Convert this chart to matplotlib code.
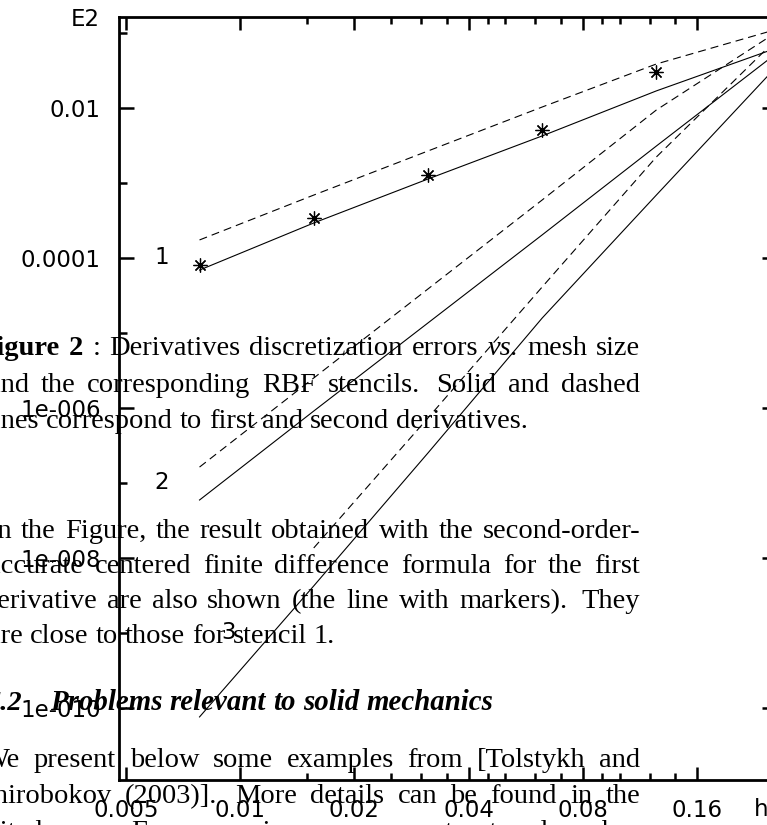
import matplotlib
matplotlib.use("Agg")
import matplotlib.pyplot as plt
from matplotlib.ticker import NullFormatter

# ---------------------------------------------------------------- data
h_vals = [0.0078125, 0.015625, 0.03125, 0.0625, 0.125, 0.25]

# stencil 1, 2, 3: first derivative (solid) and second derivative (dashed)
e1_first = [6.9e-5, 2.93e-4, 1.13e-3, 4.24e-3, 1.69e-2, 5.9e-2]
e1_second = [1.74e-4, 6.9e-4, 2.67e-3, 1.03e-2, 3.86e-2, 1.06e-1]
e2_first = [5.93e-8, 9.1e-7, 1.36e-5, 2.03e-4, 3.11e-3, 4.65e-2]
e2_second = [1.63e-7, 2.51e-6, 3.86e-5, 5.93e-4, 9.4e-3, 9.1e-2]
e3_first = [7.6e-11, 4.24e-9, 2.51e-7, 1.58e-5, 6.9e-4, 2.93e-2]
h_e3_second = [0.015625, 0.03125, 0.0625, 0.125, 0.25]
e3_second = [1.36e-8, 7.36e-7, 4.1e-5, 2.22e-3, 6.9e-2]

# second-order centered finite difference, first derivative
h_fd = [0.0078125, 0.015625, 0.03125, 0.0625, 0.125]
e_fd = [8.07e-5, 3.41e-4, 1.28e-3, 5.09e-3, 3.02e-2]

x_major = [0.005, 0.01, 0.02, 0.04, 0.08, 0.16]
x_major_labels = ["0.005", "0.01", "0.02", "0.04", "0.08", "0.16"]
x_minor = [0.015, 0.025, 0.03, 0.035, 0.045, 0.05, 0.06, 0.07, 0.09, 0.1, 0.12, 0.14]
y_major = [1e-2, 1e-4, 1e-6, 1e-8, 1e-10]
y_major_labels = ["0.01", "0.0001", "1e-006", "1e-008", "1e-010"]
y_minor = [1e-1, 1e-3, 1e-5, 1e-7, 1e-9]

curve_labels = ["1", "2", "3"]
curve_label_h = [0.0062, 0.0062, 0.0093]
curve_label_e = [1e-4, 1e-7, 1e-9]

# ---------------------------------------------------------------- figure
W, H = 767, 825
fig = plt.figure(figsize=(W / 100, H / 100), dpi=100)
plt.rcParams["font.family"] = ["DejaVu Sans"]


def fx(x):
    return x / W


def fy(y):
    return 1 - y / H


ax = fig.add_axes([fx(119), fy(780), (777 - 119) / W, (780 - 17) / H])
ax.set_xscale("log")
ax.set_yscale("log")
ax.set_xlim(0.004792, 0.2600)
ax.set_ylim(1.096e-11, 0.1634)

lw = 0.8
dash = (0, (7.2, 4.5))
ax.plot(h_vals, e1_first, color="black", lw=lw)
ax.plot(h_vals, e1_second, color="black", lw=lw, ls=dash)
ax.plot(h_vals, e2_first, color="black", lw=lw)
ax.plot(h_vals, e2_second, color="black", lw=lw, ls=dash)
ax.plot(h_vals, e3_first, color="black", lw=lw)
ax.plot(h_e3_second, e3_second, color="black", lw=lw, ls=dash)
ax.plot(h_fd, e_fd, ls="none", marker=(8, 2, 0), ms=10, mew=0.9,
        color="black")

for lab, hx, ey in zip(curve_labels, curve_label_h, curve_label_e):
    ax.text(hx, ey, lab, ha="center", va="center", fontsize=16.5)

ax.set_xticks(x_major)
ax.set_xticklabels(x_major_labels)
ax.set_xticks(x_minor, minor=True)
ax.xaxis.set_minor_formatter(NullFormatter())
ax.set_yticks(y_major)
ax.set_yticklabels(y_major_labels)
ax.set_yticks(y_minor, minor=True)
ax.yaxis.set_minor_formatter(NullFormatter())

ax.tick_params(which="both", direction="in", top=True, right=True,
               width=1.8, labelsize=16.5, color="black")
ax.tick_params(axis="x", which="major", length=9.4, pad=14)
ax.tick_params(axis="x", which="minor", length=5)
ax.tick_params(axis="y", which="major", length=10.8, pad=13)
ax.tick_params(axis="y", which="minor", length=5.8)
for sp in ax.spines.values():
    sp.set_linewidth(2.0)

fig.text(fx(100), fy(20), "E2", ha="right", va="center", fontsize=16.5)
fig.text(fx(761), fy(810), "h", ha="center", va="center", fontsize=16.5)

# ---------------------------------------------------------------- page text
FS = 20.5
SERIF = "Liberation Serif"
STY = {"r": ("normal", "normal"), "b": ("bold", "normal"),
       "i": ("normal", "italic"), "bi": ("bold", "italic")}
renderer = fig.canvas.get_renderer()


def make_word(s, st, size=FS):
    weight, style = STY[st]
    return fig.text(0, 0, s, fontsize=size, family=SERIF, weight=weight,
                    style=style, ha="left", va="baseline", color="black")


def set_line(words, y, left, right=None, size=FS):
    """words: list of (text, style, gap_weight_before)."""
    objs = [make_word(s, st, size) for s, st, _ in words]
    widths = [o.get_window_extent(renderer).width for o in objs]
    if right is None:
        gap_unit = 0.25 * size * 100 / 72
    else:
        weights = sum(g for _, _, g in words[1:])
        gap_unit = (right - left - sum(widths)) / weights
    x = left
    for i, (o, w) in enumerate(zip(objs, widths)):
        if i > 0:
            x += words[i][2] * gap_unit
        o.set_position((fx(x), fy(y)))
        x += w


def words_of(text, style="r"):
    out = []
    g = 1.0
    for p in text.split(" "):
        if p == "":
            g += 0.4
            continue
        out.append((p, style, g))
        g = 1.0
    return out


RIGHT = 640

line1 = ([("Figure", "b", 1.0), ("2", "b", 1.0), (":", "r", 1.0)]
         + words_of("Derivatives discretization errors")
         + [("vs.", "i", 1.0)] + words_of("mesh size"))
set_line(line1, 355, -20, RIGHT)
set_line(words_of("and the corresponding RBF stencils.  Solid and dashed"),
         392, -12, RIGHT)
set_line(words_of("lines correspond to first and second derivatives."),
         428, -15)
set_line(words_of("In the Figure, the result obtained with the second-order-"),
         538, -12, RIGHT)
set_line(words_of("accurate centered finite difference formula for the first"),
         573, -12, RIGHT)
set_line(words_of("derivative are also shown (the line with markers).  They"),
         608, -17, RIGHT)
set_line(words_of("are close to those for stencil 1."), 643, -12)
set_line([("5.2", "bi", 1.0)], 710, -13)
set_line(words_of("Problems relevant to solid mechanics", "bi"), 710, 50,
         size=20.8)
set_line(words_of("We present below some examples from [Tolstykh and"),
         767, -17, RIGHT)
set_line(words_of("Shirobokov (2003)].  More details can be found in the"),
         803, -22, RIGHT)
set_line(words_of("cited paper.  For comparison purposes, structured meshes"),
         839, -12, RIGHT)

fig.savefig("out.png", dpi=100)
